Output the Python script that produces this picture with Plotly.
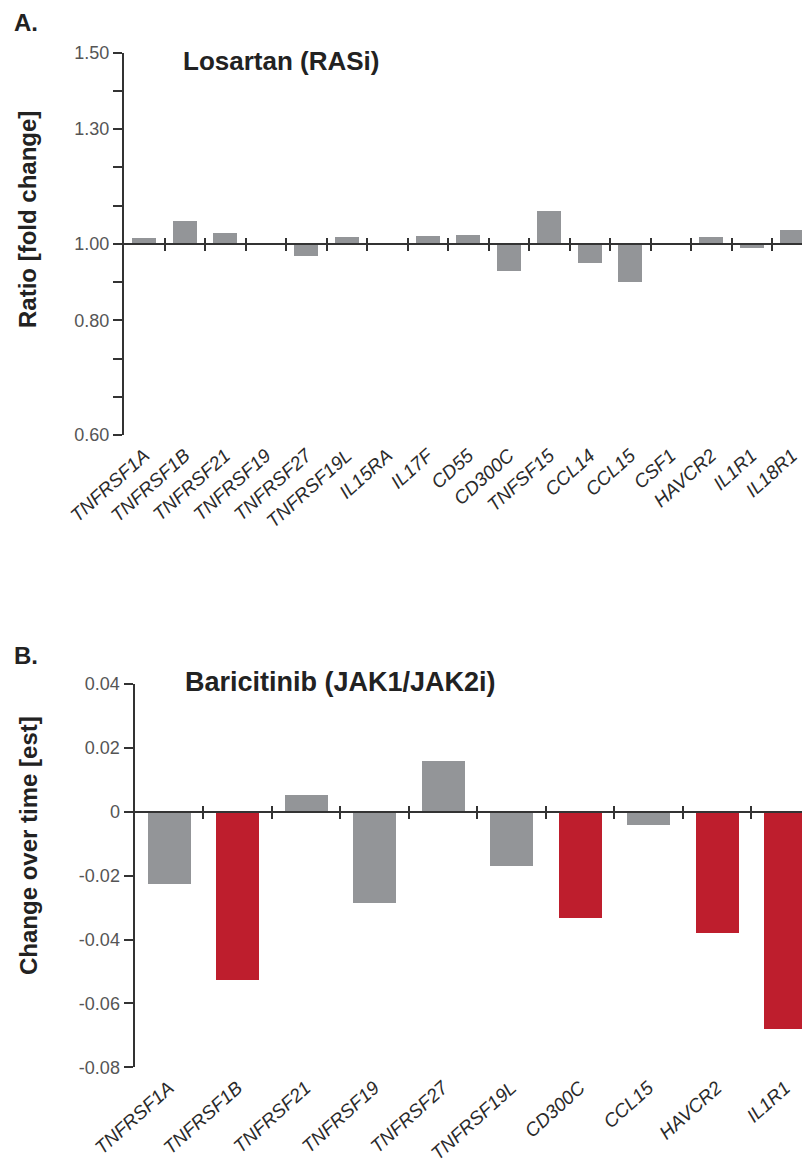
import plotly.graph_objects as go

# ---------------- data ----------------
cat_a = ["TNFRSF1A", "TNFRSF1B", "TNFRSF21", "TNFRSF19", "TNFRSF27", "TNFRSF19L",
         "IL15RA", "IL17F", "CD55", "CD300C", "TNFSF15", "CCL14", "CCL15", "CSF1",
         "HAVCR2", "IL1R1", "IL18R1"]
ratio_a = [1.015, 1.060, 1.030, 1.000, 0.969, 1.019, 1.000, 1.022, 1.024, 0.929,
           1.088, 0.952, 0.901, 1.000, 1.020, 0.990, 1.038]

cat_b = ["TNFRSF1A", "TNFRSF1B", "TNFRSF21", "TNFRSF19", "TNFRSF27", "TNFRSF19L",
         "CD300C", "CCL15", "HAVCR2", "IL1R1"]
est_b = [-0.0225, -0.0527, 0.0052, -0.0285, 0.0159, -0.0170, -0.0332, -0.0042,
         -0.0381, -0.0680]
signif_b = [False, True, False, False, False, False, True, False, True, True]

ytick_a_vals = [0.5, 0.6, 0.7, 0.8, 0.9, 1.0, 1.1, 1.2, 1.3, 1.4, 1.5]
ytick_a_text = ["0.60", "", "", "0.80", "", "1.00", "", "", "1.30", "", "1.50"]
ytick_b_vals = [-0.08, -0.06, -0.04, -0.02, 0.0, 0.02, 0.04]
ytick_b_text = ["-0.08", "-0.06", "-0.04", "-0.02", "0", "0.02", "0.04"]

# ---------------- styling ----------------
WIN_W, WIN_H = 810, 1165
OFF = 8  # default page body margin
W, H = WIN_W - OFF, WIN_H - OFF
GRAY = "#939598"
RED = "#BE1E2D"
AX = "#333333"
TICKFONT = dict(family="Liberation Sans, Arial, sans-serif", size=18, color="#555555")
CATFONT = dict(family="Liberation Sans, Arial, sans-serif", size=19, color="#2a2a2a",
               style="italic")
BOLD = "Liberation Sans, Arial, sans-serif"


def px_x(v):
    return (v - OFF) / W


def px_y(v):
    return 1 - (v - OFF) / H


# geometry (window pixels)
a_left, a_top, a_bot, a_cw = 124.0, 52.7, 435.0, 40.5
b_left, b_top, b_bot, b_cw = 134.5, 684.0, 1067.3, 68.5

xa = list(range(len(cat_a)))
xb = list(range(len(cat_b)))
bound_a = [i + 0.5 for i in xa[:-1]]
bound_b = [i + 0.5 for i in xb[:-1]]

a_range = [-0.5, -0.5 + (WIN_W - a_left) / a_cw]
b_range = [-0.5, -0.5 + (WIN_W - b_left) / b_cw]
a_dom_y = [px_y(a_bot), px_y(a_top)]
b_dom_y = [px_y(b_bot), px_y(b_top)]
ya_range = [0.5, 1.5]
yb_range = [-0.08, 0.04]
base_a = 1.0
pos_a = a_dom_y[0] + (base_a - ya_range[0]) / (ya_range[1] - ya_range[0]) * (a_dom_y[1] - a_dom_y[0])
pos_b = b_dom_y[0] + (0 - yb_range[0]) / (yb_range[1] - yb_range[0]) * (b_dom_y[1] - b_dom_y[0])

fig = go.Figure()

fig.add_trace(go.Bar(x=xa, y=[r - base_a for r in ratio_a], base=base_a, width=0.6,
                     marker=dict(color=GRAY, line=dict(width=0)),
                     xaxis="x", yaxis="y", showlegend=False, hoverinfo="skip"))
fig.add_trace(go.Scatter(x=[], y=[], xaxis="x2", yaxis="y", showlegend=False))
fig.add_trace(go.Scatter(x=[], y=[], xaxis="x3", yaxis="y", showlegend=False))

fig.add_trace(go.Bar(x=xb, y=est_b, width=0.63,
                     marker=dict(color=[RED if s else GRAY for s in signif_b], line=dict(width=0)),
                     xaxis="x4", yaxis="y2", showlegend=False, hoverinfo="skip"))
fig.add_trace(go.Scatter(x=[], y=[], xaxis="x5", yaxis="y2", showlegend=False))
fig.add_trace(go.Scatter(x=[], y=[], xaxis="x6", yaxis="y2", showlegend=False))

label_axis = dict(showline=False, showgrid=False, zeroline=False, ticks="outside",
                  ticklen=1, tickcolor="rgba(0,0,0,0)", tickangle=-42,
                  tickfont=CATFONT, automargin=False)
cross_axis = dict(showgrid=False, zeroline=False, ticks="outside", ticklen=6,
                  tickwidth=2, tickcolor=AX, showticklabels=False, anchor="free",
                  automargin=False)
y_axis = dict(showline=True, linecolor=AX, linewidth=2, ticks="outside", ticklen=9,
              tickwidth=2, tickcolor=AX, tickfont=TICKFONT, showgrid=False,
              zeroline=False, automargin=False)

fig.update_layout(
    width=W, height=H, margin=dict(l=0, r=0, t=0, b=0, pad=0, autoexpand=False),
    paper_bgcolor="white", plot_bgcolor="rgba(0,0,0,0)",
    bargap=0, showlegend=False,
    xaxis=dict(domain=[px_x(a_left), 1], range=a_range, anchor="y",
               tickvals=xa, ticktext=cat_a, **label_axis),
    xaxis2=dict(overlaying="x", range=a_range, position=pos_a, side="bottom",
                showline=True, linecolor=AX, linewidth=2, tickvals=bound_a, **cross_axis),
    xaxis3=dict(overlaying="x", range=a_range, position=pos_a, side="top",
                showline=False, tickvals=bound_a, **cross_axis),
    yaxis=dict(domain=a_dom_y, range=ya_range, anchor="x",
               tickvals=ytick_a_vals, ticktext=ytick_a_text, **y_axis),
    xaxis4=dict(domain=[px_x(b_left), 1], range=b_range, anchor="y2",
                tickvals=xb, ticktext=cat_b, **label_axis),
    xaxis5=dict(overlaying="x4", range=b_range, position=pos_b, side="bottom",
                showline=True, linecolor=AX, linewidth=2, tickvals=bound_b, **cross_axis),
    xaxis6=dict(overlaying="x4", range=b_range, position=pos_b, side="top",
                showline=False, tickvals=bound_b, **cross_axis),
    yaxis2=dict(domain=b_dom_y, range=yb_range, anchor="x4",
                tickvals=ytick_b_vals, ticktext=ytick_b_text, **y_axis),
)

ann = [
    dict(text="<b>A.</b>", x=px_x(12), y=px_y(22), xanchor="left", yanchor="middle",
         font=dict(family=BOLD, size=24, color="#222")),
    dict(text="<b>B.</b>", x=px_x(12), y=px_y(655), xanchor="left", yanchor="middle",
         font=dict(family=BOLD, size=24, color="#222")),
    dict(text="<b>Losartan (RASi)</b>", x=px_x(181), y=px_y(61), xanchor="left",
         yanchor="middle", font=dict(family=BOLD, size=26, color="#222")),
    dict(text="<b>Baricitinib (JAK1/JAK2i)</b>", x=px_x(183), y=px_y(682), xanchor="left",
         yanchor="middle", font=dict(family=BOLD, size=27, color="#222")),
    dict(text="<b>Ratio [fold change]</b>", x=px_x(27), y=px_y(220), textangle=-90,
         xanchor="center", yanchor="middle", font=dict(family=BOLD, size=24, color="#222")),
    dict(text="<b>Change over time [est]</b>", x=px_x(28), y=px_y(846), textangle=-90,
         xanchor="center", yanchor="middle", font=dict(family=BOLD, size=24, color="#222")),
]
for a in ann:
    a.update(xref="paper", yref="paper", showarrow=False)
fig.update_layout(annotations=ann)

fig.write_html("out.html")
